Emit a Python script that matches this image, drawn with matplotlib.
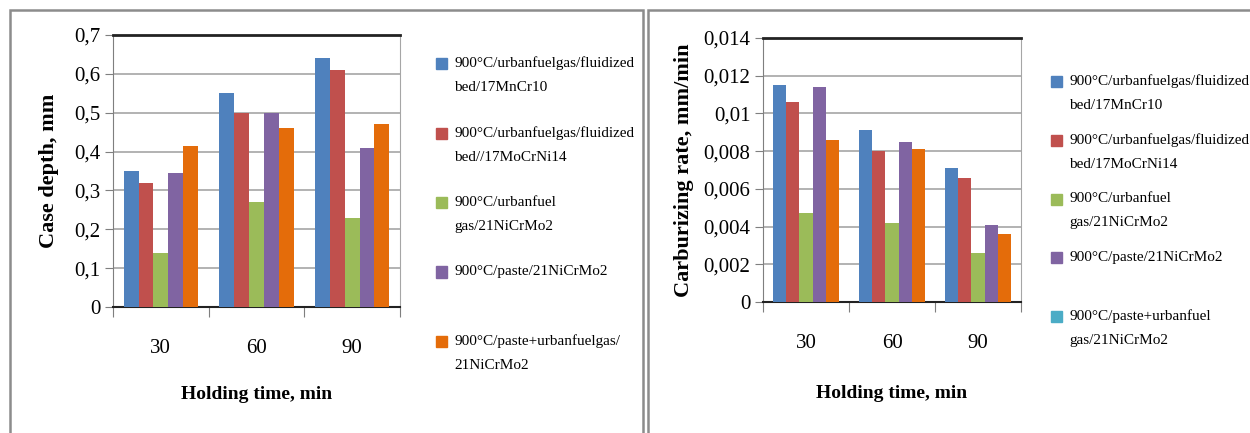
import matplotlib
matplotlib.use('Agg')
import matplotlib.pyplot as plt
from matplotlib.patches import Patch, Rectangle
from matplotlib.legend_handler import HandlerPatch
from matplotlib.ticker import FuncFormatter
import numpy as np

plt.rcParams['font.family'] = ['Liberation Serif', 'DejaVu Serif']

times = ['30', '60', '90']

# case depth, mm
depth_mncr = [0.35, 0.55, 0.64]
depth_mocrni = [0.32, 0.50, 0.61]
depth_gas = [0.14, 0.27, 0.23]
depth_paste = [0.345, 0.50, 0.41]
depth_paste_gas = [0.415, 0.46, 0.47]

# carburizing rate, mm/min
rate_mncr = [0.0115, 0.0091, 0.0071]
rate_mocrni = [0.0106, 0.0080, 0.0066]
rate_gas = [0.0047, 0.0042, 0.0026]
rate_paste = [0.0114, 0.0085, 0.0041]
rate_paste_gas = [0.0086, 0.0081, 0.0036]

depth_ticks = [0, 0.1, 0.2, 0.3, 0.4, 0.5, 0.6, 0.7]
rate_ticks = [0, 0.002, 0.004, 0.006, 0.008, 0.010, 0.012, 0.014]

labels_left = ['900°C/urbanfuelgas/fluidized\nbed/17MnCr10',
               '900°C/urbanfuelgas/fluidized\nbed//17MoCrNi14',
               '900°C/urbanfuel\ngas/21NiCrMo2',
               '900°C/paste/21NiCrMo2\n ',
               '900°C/paste+urbanfuelgas/\n21NiCrMo2']
labels_right = ['900°C/urbanfuelgas/fluidized\nbed/17MnCr10',
                '900°C/urbanfuelgas/fluidized\nbed/17MoCrNi14',
                '900°C/urbanfuel\ngas/21NiCrMo2',
                '900°C/paste/21NiCrMo2\n ',
                '900°C/paste+urbanfuel\ngas/21NiCrMo2']

colors = ['#4f81bd', '#c0504d', '#9bbb59', '#8064a2', '#e46c0a']
legend_colors_right = ['#4f81bd', '#c0504d', '#9bbb59', '#8064a2', '#4bacc6']

W, H = 1250, 433


def comma(v, pos):
    return ('%g' % round(v, 4)).replace('.', ',')


def top_square(legend, orig_handle, xdescent, ydescent, width, height, fontsize):
    # put the marker next to the first text line, like Excel does
    return Rectangle((-xdescent, -ydescent + 0.72 * fontsize), width, height)


def draw_panel(ax, series, ticks, ylabel, labels, leg_colors, leg_xy, leg_spacing,
               xpad, ypad):
    x = np.arange(len(times))
    width = 0.155
    for i, vals in enumerate(series):
        ax.bar(x + (i - 2) * width, vals, width, color=colors[i], zorder=3)

    ax.set_xlim(-0.5, len(times) - 0.5)
    ax.set_ylim(ticks[0], ticks[-1])
    ax.set_yticks(ticks)
    ax.yaxis.set_major_formatter(FuncFormatter(comma))
    ax.yaxis.grid(True, color='#a6a6a6', linewidth=1.2, zorder=0)
    ax.set_axisbelow(True)

    ax.set_xticks(np.arange(len(times) + 1) - 0.5)
    ax.set_xticklabels([])
    ax.set_xticks(x, minor=True)
    ax.set_xticklabels(times, minor=True)
    ax.tick_params(axis='x', which='major', direction='out', length=7, color='#7f7f7f')
    ax.tick_params(axis='x', which='minor', length=0, pad=23, labelsize=15)
    ax.tick_params(axis='y', direction='out', length=6, color='#7f7f7f', labelsize=15, pad=3)

    ax.spines['top'].set_color('#222222')
    ax.spines['top'].set_linewidth(2)
    ax.spines['bottom'].set_color('#222222')
    ax.spines['bottom'].set_linewidth(1.5)
    ax.spines['left'].set_color('#7f7f7f')
    ax.spines['right'].set_color('#a6a6a6')

    ax.set_xlabel('Holding time, min', fontsize=14, fontweight='bold', labelpad=xpad)
    ax.set_ylabel(ylabel, fontsize=16, fontweight='bold', labelpad=ypad)

    handles = [Patch(color=c) for c in leg_colors]
    leg = ax.legend(handles, labels, loc='upper left', bbox_to_anchor=leg_xy,
                    bbox_transform=ax.figure.transFigure, frameon=False,
                    fontsize=11, handlelength=0.75, handleheight=0.75,
                    handletextpad=0.45, labelspacing=leg_spacing,
                    borderpad=0, borderaxespad=0,
                    handler_map={Patch: HandlerPatch(patch_func=top_square)})
    for t in leg.get_texts():
        t.set_linespacing(2.1)
    return leg


fig = plt.figure(figsize=(W / 100, H / 100), dpi=100)

ax1 = fig.add_axes([113 / W, 1 - 307 / H, 287 / W, 272 / H])
draw_panel(ax1, [depth_mncr, depth_mocrni, depth_gas, depth_paste, depth_paste_gas],
           depth_ticks, 'Case depth, mm', labels_left, colors,
           (436 / W, 1 - 56 / H), 2.1, 20, 11)

ax2 = fig.add_axes([763 / W, 1 - 302 / H, 258 / W, 264 / H])
draw_panel(ax2, [rate_mncr, rate_mocrni, rate_gas, rate_paste, rate_paste_gas],
           rate_ticks, 'Carburizing rate, mm/min', labels_right, legend_colors_right,
           (1051 / W, 1 - 74 / H), 1.4, 23, 7)

# panel frames
fig.patches.append(Rectangle((10 / W, -0.1), 633 / W, 1.1 - 10 / H, transform=fig.transFigure,
                             fill=False, edgecolor='#8c8c8c', linewidth=1.8))
fig.patches.append(Rectangle((648 / W, -0.1), 0.6, 1.1 - 10 / H, transform=fig.transFigure,
                             fill=False, edgecolor='#8c8c8c', linewidth=1.8))

plt.savefig('out.png', dpi=100)
plt.close(fig)
